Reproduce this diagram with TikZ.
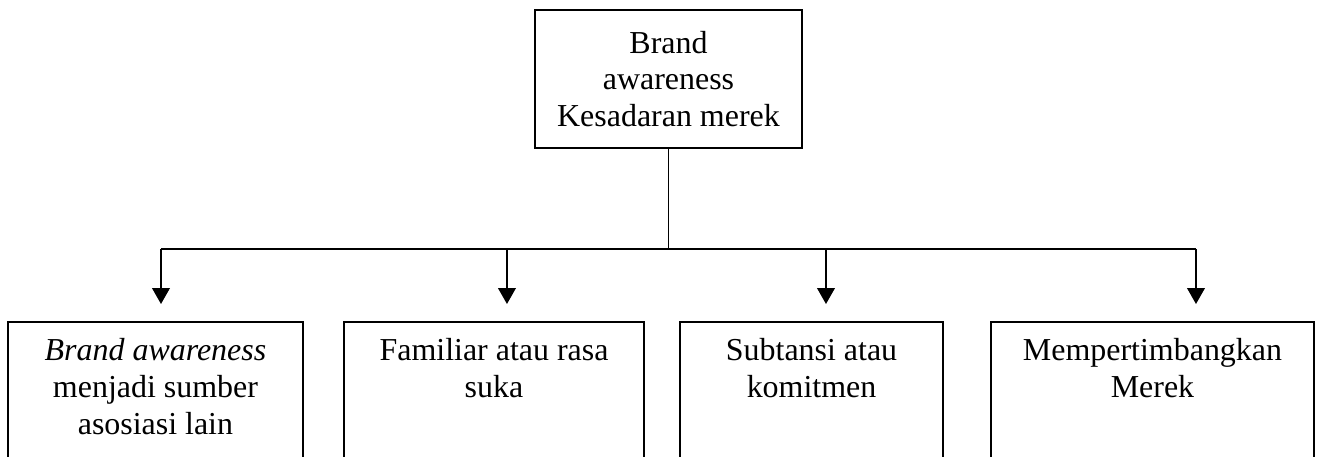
\documentclass[tikz,border=0pt]{standalone}
\usepackage{fontspec}
\setmainfont{Liberation Serif}
\usetikzlibrary{
  arrows.meta,
  positioning,
  calc
}
\tikzset{
  bmtext/.style={font=\fontsize{12}{13.8}\selectfont, align=center},
  bmnode/.style={draw, line width=0.75pt, bmtext},
  topbox/.style={bmnode, minimum width=3.52cm, minimum height=1.82cm, inner sep=0pt},
  subbox/.style={bmnode, anchor=north west, inner xsep=0pt, inner ysep=6.3pt, text depth=60pt},
  flow/.style={-{Triangle[length=6pt, width=6.6pt]}, line width=0.75pt, shorten >=0.224cm},
  netline/.style={line width=0.7pt}
}
\begin{document}
\begin{tikzpicture}
  \clip (0,0) rectangle (17.424,-6.032);
  \node[topbox] (tb) at (8.824,-1.043) {Brand\\awareness\\Kesadaran merek};
  % sub-dimensions
  \node[subbox, minimum width=3.894cm] (b1) at (0.092,-4.237) {\textit{Brand awareness}\\menjadi sumber\\asosiasi lain};
  \node[subbox, minimum width=3.96cm] (b2) at (4.528,-4.237) {Familiar atau rasa\\suka};
  \node[subbox, minimum width=3.472cm] (b3) at (8.963,-4.237) {Subtansi atau\\komitmen};
  \node[subbox, minimum width=4.264cm] (b4) at (13.068,-4.237) {Mempertimbangkan\\Merek};
  \coordinate (j1) at (2.125,-3.287);
  \coordinate (j2) at (6.692,-3.287);
  \coordinate (j3) at (10.903,-3.287);
  \coordinate (j4) at (15.787,-3.287);
  \draw[netline] (tb.south) -- (tb.south |- j1);
  \draw[netline] (j1) -- (j4);
  \draw[flow] (j1) -- (j1 |- b1.north);
  \draw[flow] (j2) -- (j2 |- b2.north);
  \draw[flow] (j3) -- (j3 |- b3.north);
  \draw[flow] (j4) -- (j4 |- b4.north);
\end{tikzpicture}
\end{document}
